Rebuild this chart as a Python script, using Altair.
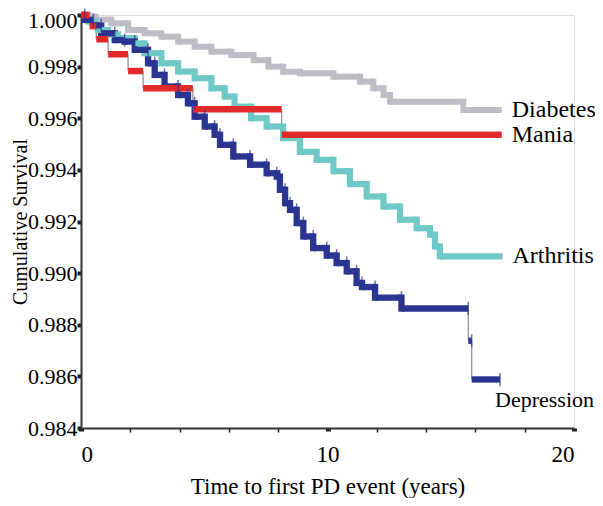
import altair as alt
import pandas as pd

# Kaplan-Meier style curves (time in years, cumulative survival)
series_names = ["Diabetes", "Arthritis", "Depression", "Mania"]
series_colors = ["#bdbdc6", "#6ec9c6", "#2b3591", "#e02a2a"]
series_widths = [6, 6.5, 7, 8]

diab_t = [0, 0.15, 0.6, 1.23, 1.91, 2.58, 3.26, 3.94, 4.61, 5.29, 6.1, 7.0, 7.6, 8.2,
          8.88, 10.24, 11.32, 11.86, 12.27, 12.54, 15.51, 17.07]
diab_s = [1.0, 0.99993, 0.99982, 0.99968, 0.99942, 0.99929, 0.99916, 0.99897, 0.99877,
          0.99858, 0.99845, 0.99825, 0.99800, 0.99780, 0.99774, 0.99761, 0.99742, 0.99716,
          0.99690, 0.99664, 0.99632, 0.99632]

arth_t = [0, 0.3, 0.69, 1.1, 1.5, 2.18, 2.58, 3.26, 3.94, 4.61, 5.29, 5.83, 6.23, 6.9,
          7.53, 8.2, 8.88, 9.56, 10.24, 10.91, 11.59, 12.27, 12.94, 13.62, 14.16, 14.36,
          14.56, 17.1]
arth_s = [1.0, 0.99975, 0.99942, 0.99925, 0.99910, 0.99890, 0.99852, 0.99813, 0.99781,
          0.99755, 0.99716, 0.99684, 0.99645, 0.99600, 0.99568, 0.99523, 0.99470, 0.99439,
          0.99395, 0.99345, 0.99297, 0.99258, 0.99207, 0.99174, 0.99149, 0.99103, 0.99065,
          0.99065]

dep_t = [0, 0.15, 0.5, 0.82, 1.37, 1.77, 2.18, 2.72, 2.99, 3.39, 3.94, 4.34, 4.61, 5.02,
         5.42, 5.64, 6.18, 6.86, 7.53, 7.94, 8.07, 8.28, 8.48, 8.75, 9.02, 9.42, 9.97,
         10.37, 10.78, 11.18, 11.4, 11.93, 13.0, 15.71, 15.85, 17.0]
dep_s = [1.0, 0.99981, 0.99960, 0.99929, 0.99903, 0.99897, 0.99865, 0.99813, 0.99768,
         0.99723, 0.99690, 0.99658, 0.99606, 0.99568, 0.99536, 0.99497, 0.99452, 0.99420,
         0.99387, 0.99374, 0.99323, 0.99271, 0.99245, 0.99194, 0.99142, 0.99097, 0.99068,
         0.99039, 0.99007, 0.98962, 0.98946, 0.98905, 0.98863, 0.98738, 0.98588, 0.98588]

mania_t = [0, 0.35, 0.62, 1.1, 1.91, 2.52, 4.54, 8.14, 17.07]
mania_s = [1.0, 0.99957, 0.99906, 0.99848, 0.99783, 0.99716, 0.99635, 0.99536, 0.99536]

curves = {
    "Diabetes": (diab_t, diab_s),
    "Arthritis": (arth_t, arth_s),
    "Depression": (dep_t, dep_s),
    "Mania": (mania_t, mania_s),
}

hrows, vrows, ends = [], [], []
for name, (t, s) in curves.items():
    for i in range(len(t) - 1):
        hrows.append({"series": name, "x": t[i], "x2": t[i + 1], "y": s[i]})
        if s[i + 1] != s[i]:
            thin = name == "Mania" or (s[i] - s[i + 1]) > 0.001
            vrows.append({"series": name, "x": t[i + 1], "y": s[i], "y2": s[i + 1], "thin": thin})
    ends.append({"series": name, "x": t[-1], "y": s[-1]})

hseg = pd.DataFrame(hrows)
vseg = pd.DataFrame(vrows)
lab = pd.DataFrame(ends)

FONT = "Liberation Serif"
xs = alt.Scale(domain=[0, 20], nice=False)
ys = alt.Scale(domain=[0.984, 1.0], nice=False, zero=False)
col = alt.Color("series:N", scale=alt.Scale(domain=series_names, range=series_colors), legend=None)
sw = alt.StrokeWidth("series:N", scale=alt.Scale(domain=series_names, range=series_widths), legend=None)

x_axis = alt.Axis(
    values=list(range(0, 21, 2)),
    labelExpr="datum.value % 10 === 0 ? datum.label : ''",
    title="Time to first PD event (years)",
    grid=False, domainColor="#333", domainWidth=2,
    tickColor="#222",
    tickWidth={"condition": {"test": "datum.value % 10 === 0", "value": 5}, "value": 1.5},
    tickSize={"condition": {"test": "datum.value % 10 === 0", "value": 3}, "value": 4},
    labelFont=FONT, labelFontSize=23, labelColor="black", labelPadding=12,
    titleFont=FONT, titleFontSize=23, titleFontWeight="normal", titleColor="black", titlePadding=9,
)
y_axis = alt.Axis(
    values=[0.984, 0.986, 0.988, 0.990, 0.992, 0.994, 0.996, 0.998, 1.0],
    format=".3f", title="Cumulative Survival",
    grid=False, domainColor="#333", domainWidth=2,
    tickColor="#222", tickWidth=4, tickSize=4,
    labelFont=FONT, labelFontSize=22, labelColor="black", labelPadding=0,
    labelOffset={"condition": {"test": "datum.value >= 0.9999", "value": 5}, "value": 0},
    titleFont=FONT, titleFontSize=20, titleFontWeight="normal", titleColor="black",
    titleBaseline="alphabetic", titlePadding=1,
)

thin_lines = alt.Chart(vseg).transform_filter("datum.thin").mark_rule(
    color="#8c8c8c", strokeWidth=1.2
).encode(
    x=alt.X("x:Q", scale=xs, axis=x_axis),
    y=alt.Y("y:Q", scale=ys, axis=y_axis),
    y2="y2:Q",
)

thick_v = alt.Chart(vseg).transform_filter("!datum.thin").mark_rule(strokeCap="square").encode(
    x="x:Q", y="y:Q", y2="y2:Q", color=col, strokeWidth=sw
)

horiz = alt.Chart(hseg).mark_rule(strokeCap="butt").encode(
    x="x:Q", x2="x2:Q", y="y:Q", color=col, strokeWidth=sw
)

# small censor crosses on the depression curve
censor = alt.Chart(hseg).transform_filter("datum.series == 'Depression'").mark_tick(
    orient="vertical", size=13, thickness=1.5, color="#2b3591"
).encode(x="x2:Q", y="y:Q")

labels_top = alt.Chart(lab).transform_filter("datum.series != 'Depression'").mark_text(
    align="left", baseline="middle", dx=10, font=FONT, fontSize=24, color="black"
).encode(x="x:Q", y="y:Q", text="series:N")

label_dep = alt.Chart(lab).transform_filter("datum.series == 'Depression'").mark_text(
    align="left", baseline="middle", dx=-5, dy=21, font=FONT, fontSize=22, color="black"
).encode(x="x:Q", y="y:Q", text="series:N")

chart = alt.layer(thin_lines, thick_v, horiz, censor, labels_top, label_dep).properties(
    width=493, height=413,
    autosize=alt.AutoSizeParams(type="none"),
    padding={"left": 73, "top": 7, "right": 21, "bottom": 70},
).configure_view(stroke=None).configure(background="white")

chart.save("out.html", embed_options={"renderer": "svg", "actions": False})
